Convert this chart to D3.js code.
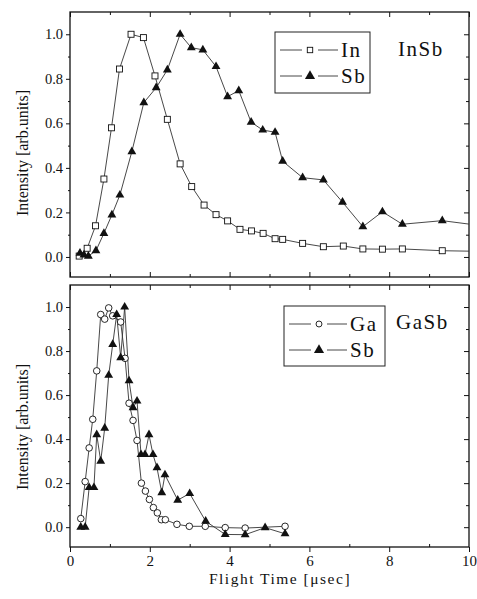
<!DOCTYPE html>
<html>
<head>
<meta charset="utf-8">
<script src="https://cdn.jsdelivr.net/npm/d3@7"></script>
<style>
  body { margin: 0; background: #fff; }
  svg text { font-family: "Liberation Serif", "Times New Roman", Tinos, "DejaVu Serif", serif !important; fill: #111; }
</style>
</head>
<body>
<div id="chart"></div>
<script>
// InSb panel
const inX  = [0.23, 0.43, 0.64, 0.85, 1.04, 1.24, 1.53, 1.84, 2.13, 2.44, 2.76, 3.05, 3.36, 3.66, 3.95, 4.26, 4.55, 4.84, 5.14, 5.33, 5.83, 6.35, 6.85, 7.34, 7.83, 8.33, 9.33, 10.33];
const inY  = [0.004, 0.039, 0.14, 0.35, 0.58, 0.844, 1.0, 0.985, 0.813, 0.618, 0.418, 0.316, 0.233, 0.19, 0.162, 0.124, 0.117, 0.106, 0.082, 0.079, 0.061, 0.046, 0.049, 0.036, 0.035, 0.036, 0.028, 0.025];
const sbTopX = [0.25, 0.35, 0.46, 0.65, 0.85, 1.05, 1.25, 1.55, 1.85, 2.16, 2.44, 2.76, 3.04, 3.33, 3.66, 3.95, 4.23, 4.54, 4.83, 5.14, 5.33, 5.83, 6.35, 6.83, 7.34, 7.83, 8.33, 9.33, 10.33];
const sbTopY = [0.017, 0.009, 0.004, 0.028, 0.106, 0.189, 0.278, 0.473, 0.693, 0.76, 0.84, 1.0, 0.94, 0.93, 0.855, 0.72, 0.747, 0.605, 0.57, 0.56, 0.43, 0.356, 0.346, 0.246, 0.136, 0.203, 0.147, 0.163, 0.14];

// GaSb panel
const gaX = [0.27, 0.38, 0.48, 0.57, 0.67, 0.77, 0.87, 0.97, 1.07, 1.27, 1.38, 1.48, 1.58, 1.68, 1.79, 1.89, 1.99, 2.09, 2.19, 2.29, 2.39, 2.68, 2.99, 3.39, 3.89, 4.39, 5.39];
const gaY = [0.039, 0.207, 0.36, 0.49, 0.71, 0.966, 0.945, 0.996, 0.96, 0.932, 0.767, 0.563, 0.485, 0.394, 0.2, 0.164, 0.126, 0.089, 0.065, 0.034, 0.034, 0.013, 0.004, 0.004, -0.002, -0.004, 0.004];
const sbBotX = [0.27, 0.38, 0.48, 0.6, 0.67, 0.77, 0.87, 0.97, 1.07, 1.17, 1.27, 1.37, 1.48, 1.58, 1.68, 1.78, 1.88, 1.98, 2.08, 2.18, 2.3, 2.38, 2.7, 3.0, 3.4, 3.89, 4.39, 4.89, 5.39];
const sbBotY = [0.0, 0.0, 0.18, 0.18, 0.42, 0.3, 0.45, 0.69, 0.83, 0.966, 0.77, 1.0, 0.665, 0.543, 0.573, 0.33, 0.33, 0.42, 0.33, 0.27, 0.157, 0.238, 0.123, 0.153, 0.027, -0.033, -0.034, -0.002, -0.03];

const xMajor = [0, 2, 4, 6, 8, 10];
const xMinor = [1, 3, 5, 7, 9];
const yMajor = [0, 0.2, 0.4, 0.6, 0.8, 1.0];
const yMinor = [0.1, 0.3, 0.5, 0.7, 0.9];

const W = 477, H = 599;
const left = 70, right = 469;

const svg = d3.select("#chart").append("svg")
    .attr("width", W).attr("height", H);

const x = d3.scaleLinear().domain([0, 10]).range([left, right]);

const panels = [
    {id: "top", top: 12, bottom: 277, label: "InSb", xLabels: false,
     series: [
        {name: "In", xs: inX, ys: inY, marker: "square"},
        {name: "Sb", xs: sbTopX, ys: sbTopY, marker: "triangle"}],
     legend: {x: 275, y: 32, w: 95, h: 61, labelX: 398, labelY: 56},
     titleY: 153},
    {id: "bot", top: 285, bottom: 547, label: "GaSb", xLabels: true,
     series: [
        {name: "Ga", xs: gaX, ys: gaY, marker: "circle"},
        {name: "Sb", xs: sbBotX, ys: sbBotY, marker: "triangle"}],
     legend: {x: 284, y: 306, w: 101, h: 60, labelX: 396, labelY: 329},
     titleY: 427}
];

function drawMarker(g, type, cx, cy, scale) {
    scale = scale || 1;
    if (type === "square") {
        const s = 6 * scale;
        g.append("rect").attr("x", cx - s / 2).attr("y", cy - s / 2)
            .attr("width", s).attr("height", s)
            .attr("fill", "#fff").attr("stroke", "#111").attr("stroke-width", 0.9);
    } else if (type === "circle") {
        g.append("circle").attr("cx", cx).attr("cy", cy).attr("r", 3.3 * scale)
            .attr("fill", "#fff").attr("stroke", "#111").attr("stroke-width", 0.9);
    } else {
        g.append("path")
            .attr("d", d3.symbol().type(d3.symbolTriangle).size(34 * scale)())
            .attr("transform", "translate(" + cx + "," + cy + ")")
            .attr("fill", "#111");
    }
}

panels.forEach(p => {
    const y = d3.scaleLinear().domain([-0.09, 1.1]).range([p.bottom, p.top]);
    const g = svg.append("g");

    svg.append("clipPath").attr("id", "clip-" + p.id)
        .append("rect").attr("x", left).attr("y", p.top)
        .attr("width", right - left).attr("height", p.bottom - p.top);

    // frame
    g.append("rect").attr("x", left).attr("y", p.top)
        .attr("width", right - left).attr("height", p.bottom - p.top)
        .attr("fill", "none").attr("stroke", "#111").attr("stroke-width", 1.3);

    // ticks: left (outward, labelled)
    const leftAx = g.append("g").attr("transform", "translate(" + left + ",0)")
        .call(d3.axisLeft(y).tickValues(yMajor).tickSize(4).tickPadding(3).tickFormat(d3.format(".1f")));
    leftAx.select(".domain").remove();
    leftAx.selectAll("text").attr("font-size", 14.5);
    g.append("g").attr("transform", "translate(" + left + ",0)")
        .call(d3.axisLeft(y).tickValues(yMinor).tickSize(2).tickFormat(""))
        .select(".domain").remove();

    // right (inward)
    [[yMajor, 5], [yMinor, 3]].forEach(([vals, len]) => {
        g.append("g").attr("transform", "translate(" + right + ",0)")
            .call(d3.axisRight(y).tickValues(vals).tickSize(-len).tickFormat(""))
            .select(".domain").remove();
    });

    // top (inward)
    [[xMajor, 5], [xMinor, 3]].forEach(([vals, len]) => {
        g.append("g").attr("transform", "translate(0," + p.top + ")")
            .call(d3.axisTop(x).tickValues(vals).tickSize(-len).tickFormat(""))
            .select(".domain").remove();
    });

    // bottom
    if (p.xLabels) {
        const bAx = g.append("g").attr("transform", "translate(0," + p.bottom + ")")
            .call(d3.axisBottom(x).tickValues(xMajor).tickSize(5).tickPadding(3).tickFormat(d3.format("d")));
        bAx.select(".domain").remove();
        bAx.selectAll("text").attr("font-size", 15);
        g.append("g").attr("transform", "translate(0," + p.bottom + ")")
            .call(d3.axisBottom(x).tickValues(xMinor).tickSize(-3).tickFormat(""))
            .select(".domain").remove();
    } else {
        [[xMajor, 5], [xMinor, 3]].forEach(([vals, len]) => {
            g.append("g").attr("transform", "translate(0," + p.bottom + ")")
                .call(d3.axisBottom(x).tickValues(vals).tickSize(-len).tickFormat(""))
                .select(".domain").remove();
        });
    }
    g.selectAll(".tick line").attr("stroke", "#111");

    // data
    const plot = g.append("g").attr("clip-path", "url(#clip-" + p.id + ")");
    p.series.forEach(s => {
        const pts = s.xs.map((v, i) => [x(v), y(s.ys[i])]);
        plot.append("path")
            .attr("d", d3.line()(pts))
            .attr("fill", "none").attr("stroke", "#333").attr("stroke-width", 0.9);
    });
    p.series.forEach(s => {
        s.xs.forEach((v, i) => {
            if (v <= 10) drawMarker(plot, s.marker, x(v), y(s.ys[i]));
        });
    });

    // legend
    const L = p.legend;
    const lg = g.append("g");
    lg.append("rect").attr("x", L.x).attr("y", L.y).attr("width", L.w).attr("height", L.h)
        .attr("fill", "#fff").attr("stroke", "#222").attr("stroke-width", 1);
    p.series.forEach((s, i) => {
        const cy = L.y + 18 + i * 26;
        const lx = L.x + 5;
        const mx = lx + 30;
        lg.append("line").attr("x1", lx).attr("x2", mx - 8).attr("y1", cy).attr("y2", cy)
            .attr("stroke", "#333").attr("stroke-width", 0.9);
        lg.append("line").attr("x1", mx + 8).attr("x2", mx + 28).attr("y1", cy).attr("y2", cy)
            .attr("stroke", "#333").attr("stroke-width", 0.9);
        drawMarker(lg, s.marker, mx, cy, s.marker === "triangle" ? 1.3 : 0.9);
        lg.append("text").attr("x", mx + 31).attr("y", cy + 7)
            .attr("font-size", 21).attr("letter-spacing", 1.5).text(s.name);
    });
    g.append("text").attr("x", L.labelX).attr("y", L.labelY)
        .attr("font-size", 21).attr("letter-spacing", 1.5).text(p.label);

    // y title
    g.append("text")
        .attr("transform", "translate(28," + p.titleY + ") rotate(-90)")
        .attr("text-anchor", "middle").attr("font-size", 16)
        .text("Intensity [arb.units]");
});

svg.append("text").attr("x", 280).attr("y", 584)
    .attr("text-anchor", "middle").attr("font-size", 15.5).attr("letter-spacing", 1.5)
    .text("Flight Time [μsec]");
</script>
</body>
</html>
